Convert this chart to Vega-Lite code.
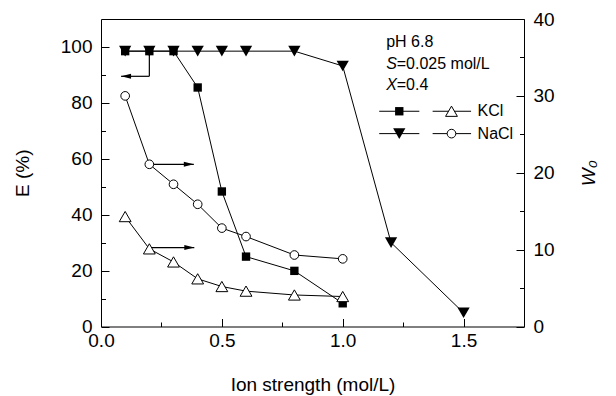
{
  "$schema": "https://vega.github.io/schema/vega-lite/v6.json",
  "width": 423,
  "height": 307.5,
  "autosize": "none",
  "padding": {"left": 101, "top": 19, "right": 92, "bottom": 69.5},
  "config": {
    "font": "Liberation Sans",
    "view": {"stroke": "black", "strokeWidth": 1},
    "axis": {
      "grid": false,
      "domain": false,
      "ticks": true,
      "tickColor": "black",
      "tickOpacity": 1,
      "tickWidth": 1,
      "labelColor": "black",
      "titleColor": "black",
      "labelFontSize": 19,
      "titleFontSize": 19,
      "titleFontWeight": "normal",
      "labelFlush": false,
      "labelOverlap": false
    }
  },
  "datasets": {
    "E": [
      {"salt": "KCl", "I": 0.1, "val": 98.5},
      {"salt": "KCl", "I": 0.2, "val": 98.5},
      {"salt": "KCl", "I": 0.3, "val": 98.5},
      {"salt": "KCl", "I": 0.4, "val": 85.5},
      {"salt": "KCl", "I": 0.5, "val": 48.3},
      {"salt": "KCl", "I": 0.6, "val": 25.0},
      {"salt": "KCl", "I": 0.8, "val": 19.9},
      {"salt": "KCl", "I": 1.0, "val": 8.3},
      {"salt": "NaCl", "I": 0.1, "val": 98.5},
      {"salt": "NaCl", "I": 0.2, "val": 98.5},
      {"salt": "NaCl", "I": 0.3, "val": 98.5},
      {"salt": "NaCl", "I": 0.4, "val": 98.5},
      {"salt": "NaCl", "I": 0.5, "val": 98.5},
      {"salt": "NaCl", "I": 0.6, "val": 98.5},
      {"salt": "NaCl", "I": 0.8, "val": 98.5},
      {"salt": "NaCl", "I": 1.0, "val": 93.2},
      {"salt": "NaCl", "I": 1.2, "val": 30.0},
      {"salt": "NaCl", "I": 1.5, "val": 4.9}
    ],
    "W": [
      {"salt": "KCl", "I": 0.1, "val": 14.3},
      {"salt": "KCl", "I": 0.2, "val": 10.1},
      {"salt": "KCl", "I": 0.3, "val": 8.4},
      {"salt": "KCl", "I": 0.4, "val": 6.2},
      {"salt": "KCl", "I": 0.5, "val": 5.2},
      {"salt": "KCl", "I": 0.6, "val": 4.6},
      {"salt": "KCl", "I": 0.8, "val": 4.1},
      {"salt": "KCl", "I": 1.0, "val": 3.9},
      {"salt": "NaCl", "I": 0.1, "val": 30.0},
      {"salt": "NaCl", "I": 0.2, "val": 21.1},
      {"salt": "NaCl", "I": 0.3, "val": 18.5},
      {"salt": "NaCl", "I": 0.4, "val": 15.9},
      {"salt": "NaCl", "I": 0.5, "val": 12.8},
      {"salt": "NaCl", "I": 0.6, "val": 11.7},
      {"salt": "NaCl", "I": 0.8, "val": 9.3},
      {"salt": "NaCl", "I": 1.0, "val": 8.8}
    ],
    "arrowE": [
      {"I": 0.2, "val": 98.5, "I2": 0.2, "val2": 89.5},
      {"I": 0.2, "val": 89.5, "I2": 0.083, "val2": 89.5}
    ],
    "headE": [{"I": 0.083, "val": 89.5}],
    "arrowW": [
      {"I": 0.2, "val": 21.1, "I2": 0.384, "val2": 21.1},
      {"I": 0.2, "val": 10.27, "I2": 0.386, "val2": 10.27}
    ],
    "headW": [{"I": 0.384, "val": 21.1}, {"I": 0.386, "val": 10.27}],
    "legLines": [
      {"I": 1.151, "I2": 1.317, "val": 77.0},
      {"I": 1.372, "I2": 1.531, "val": 77.0},
      {"I": 1.151, "I2": 1.317, "val": 69.0},
      {"I": 1.372, "I2": 1.531, "val": 69.0}
    ],
    "legMarks": [
      {"I": 1.234, "val": 77.0, "series": "E KCl"},
      {"I": 1.234, "val": 69.0, "series": "E NaCl"},
      {"I": 1.450, "val": 77.0, "series": "W KCl"},
      {"I": 1.450, "val": 69.0, "series": "W NaCl"}
    ],
    "legLabels": [
      {"I": 1.558, "val": 77.0, "label": "KCl"},
      {"I": 1.558, "val": 69.0, "label": "NaCl"}
    ],
    "notes": [
      {"I": 1.18, "val": 100.0, "label": "pH 6.8", "part": "plain"},
      {"I": 1.18, "val": 92.2, "label": "S", "part": "italic"},
      {"I": 1.18, "val": 92.2, "label": "=0.025 mol/L", "part": "suffix"},
      {"I": 1.18, "val": 84.5, "label": "X", "part": "italic"},
      {"I": 1.18, "val": 84.5, "label": "=0.4", "part": "suffix"}
    ]
  },
  "layer": [
    {
      "encoding": {
        "x": {
          "field": "I",
          "type": "quantitative",
          "scale": {"domain": [0, 1.75], "nice": false, "zero": false},
          "axis": {
            "orient": "bottom",
            "title": "Ion strength (mol/L)",
            "values": [0, 0.5, 1, 1.5],
            "format": ".1f",
            "ticks": true,
            "tickColor": "black",
            "tickOpacity": 1,
            "tickWidth": 1,
            "zindex": 1,
            "offset": -8,
            "tickSize": 8,
            "labelPadding": 5,
            "titlePadding": 25
          }
        },
        "y": {
          "field": "val",
          "type": "quantitative",
          "scale": {"domain": [0, 110], "nice": false, "zero": false},
          "axis": {
            "title": "E (%)",
            "orient": "left",
            "values": [0, 20, 40, 60, 80, 100],
            "ticks": true,
            "tickColor": "black",
            "tickOpacity": 1,
            "tickWidth": 1,
            "zindex": 1,
            "offset": -8,
            "tickSize": 8,
            "labelPadding": 9,
            "titlePadding": 28
          }
        }
      },
      "layer": [
        {
          "data": {"name": "E"},
          "mark": {"type": "line", "color": "black", "strokeWidth": 1},
          "encoding": {"detail": {"field": "salt"}}
        },
        {
          "data": {"name": "arrowE"},
          "mark": {"type": "rule", "color": "black", "strokeWidth": 1.2},
          "encoding": {"x2": {"field": "I2"}, "y2": {"field": "val2"}}
        },
        {
          "data": {"name": "headE"},
          "mark": {"type": "point", "shape": "M1,-0.5L-1,0L1,0.5Z", "filled": true, "color": "black", "opacity": 1, "size": 100, "xOffset": 5}
        },
        {
          "data": {"name": "E"},
          "transform": [{"filter": "datum.salt === 'NaCl'"}],
          "mark": {"type": "point", "shape": "triangle-down", "filled": true, "color": "black", "opacity": 1, "size": 150}
        },
        {
          "data": {"name": "E"},
          "transform": [{"filter": "datum.salt === 'KCl'"}],
          "mark": {"type": "point", "shape": "square", "filled": true, "color": "black", "opacity": 1, "size": 70}
        },
        {
          "data": {"name": "legLines"},
          "mark": {"type": "rule", "color": "black", "strokeWidth": 1},
          "encoding": {"x2": {"field": "I2"}}
        },
        {
          "data": {"name": "legMarks"},
          "transform": [{"filter": "datum.series === 'E KCl'"}],
          "mark": {"type": "point", "shape": "square", "filled": true, "color": "black", "opacity": 1, "size": 70}
        },
        {
          "data": {"name": "legMarks"},
          "transform": [{"filter": "datum.series === 'E NaCl'"}],
          "mark": {"type": "point", "shape": "triangle-down", "filled": true, "color": "black", "opacity": 1, "size": 150}
        },
        {
          "data": {"name": "legMarks"},
          "transform": [{"filter": "datum.series === 'W KCl'"}],
          "mark": {"type": "point", "shape": "triangle-up", "filled": true, "fill": "white", "stroke": "black", "strokeWidth": 1, "opacity": 1, "size": 140}
        },
        {
          "data": {"name": "legMarks"},
          "transform": [{"filter": "datum.series === 'W NaCl'"}],
          "mark": {"type": "point", "shape": "circle", "filled": true, "fill": "white", "stroke": "black", "strokeWidth": 1, "opacity": 1, "size": 75}
        },
        {
          "data": {"name": "legLabels"},
          "mark": {"type": "text", "align": "left", "baseline": "middle", "fontSize": 16, "color": "black"},
          "encoding": {"text": {"field": "label"}}
        },
        {
          "data": {"name": "notes"},
          "transform": [{"filter": "datum.part === 'plain'"}],
          "mark": {"type": "text", "align": "left", "baseline": "alphabetic", "fontSize": 16, "color": "black"},
          "encoding": {"text": {"field": "label"}}
        },
        {
          "data": {"name": "notes"},
          "transform": [{"filter": "datum.part === 'italic'"}],
          "mark": {"type": "text", "align": "left", "baseline": "alphabetic", "fontSize": 16, "fontStyle": "italic", "color": "black"},
          "encoding": {"text": {"field": "label"}}
        },
        {
          "data": {"name": "notes"},
          "transform": [{"filter": "datum.part === 'suffix'"}],
          "mark": {"type": "text", "align": "left", "baseline": "alphabetic", "fontSize": 16, "color": "black", "dx": 10.5},
          "encoding": {"text": {"field": "label"}}
        }
      ]
    },
    {
      "encoding": {
        "x": {
          "field": "I",
          "type": "quantitative",
          "scale": {"domain": [0, 1.75], "nice": false, "zero": false},
          "axis": null
        },
        "y": {
          "field": "val",
          "type": "quantitative",
          "scale": {"domain": [0, 40], "nice": false, "zero": false},
          "axis": {
            "title": "W₀",
            "orient": "right",
            "titleFontStyle": "italic",
            "titleAngle": 270,
            "values": [0, 10, 20, 30, 40],
            "ticks": true,
            "tickColor": "black",
            "tickOpacity": 1,
            "tickWidth": 1,
            "zindex": 1,
            "offset": -8,
            "tickSize": 8,
            "labelPadding": 9,
            "titlePadding": 44
          }
        }
      },
      "layer": [
        {
          "data": {"name": "W"},
          "mark": {"type": "line", "color": "black", "strokeWidth": 1},
          "encoding": {"detail": {"field": "salt"}}
        },
        {
          "data": {"name": "arrowW"},
          "mark": {"type": "rule", "color": "black", "strokeWidth": 1.2},
          "encoding": {"x2": {"field": "I2"}}
        },
        {
          "data": {"name": "headW"},
          "mark": {"type": "point", "shape": "M-1,-0.5L1,0L-1,0.5Z", "filled": true, "color": "black", "opacity": 1, "size": 100, "xOffset": -5}
        },
        {
          "data": {"name": "W"},
          "transform": [{"filter": "datum.salt === 'KCl'"}],
          "mark": {"type": "point", "shape": "triangle-up", "filled": true, "fill": "white", "stroke": "black", "strokeWidth": 1, "opacity": 1, "size": 140}
        },
        {
          "data": {"name": "W"},
          "transform": [{"filter": "datum.salt === 'NaCl'"}],
          "mark": {"type": "point", "shape": "circle", "filled": true, "fill": "white", "stroke": "black", "strokeWidth": 1, "opacity": 1, "size": 75}
        }
      ]
    },
    {
      "data": {"name": "E"},
      "mark": {"type": "point", "opacity": 0},
      "encoding": {
        "x": {
          "field": "I",
          "type": "quantitative",
          "scale": {"domain": [0, 1.75], "nice": false, "zero": false},
          "axis": {
            "orient": "bottom",
            "title": null,
            "values": [0.25, 0.75, 1.25],
            "ticks": true,
            "tickColor": "black",
            "tickOpacity": 1,
            "tickWidth": 1,
            "zindex": 1,
            "offset": -4.5,
            "tickSize": 4.5,
            "labels": false
          }
        },
        "y": {
          "field": "val",
          "type": "quantitative",
          "scale": {"domain": [0, 110], "nice": false, "zero": false},
          "axis": {
            "orient": "left",
            "title": null,
            "values": [10, 30, 50, 70, 90],
            "ticks": true,
            "tickColor": "black",
            "tickOpacity": 1,
            "tickWidth": 1,
            "zindex": 1,
            "offset": -4.5,
            "tickSize": 4.5,
            "labels": false
          }
        }
      }
    },
    {
      "data": {"name": "W"},
      "mark": {"type": "point", "opacity": 0},
      "encoding": {
        "x": {
          "field": "I",
          "type": "quantitative",
          "scale": {"domain": [0, 1.75], "nice": false, "zero": false},
          "axis": null
        },
        "y": {
          "field": "val",
          "type": "quantitative",
          "scale": {"domain": [0, 40], "nice": false, "zero": false},
          "axis": {
            "orient": "right",
            "title": null,
            "values": [5, 15, 25, 35],
            "ticks": true,
            "tickColor": "black",
            "tickOpacity": 1,
            "tickWidth": 1,
            "zindex": 1,
            "offset": -4.5,
            "tickSize": 4.5,
            "labels": false
          }
        }
      }
    }
  ],
  "resolve": {"scale": {"y": "independent"}, "axis": {"x": "independent", "y": "independent"}}
}
